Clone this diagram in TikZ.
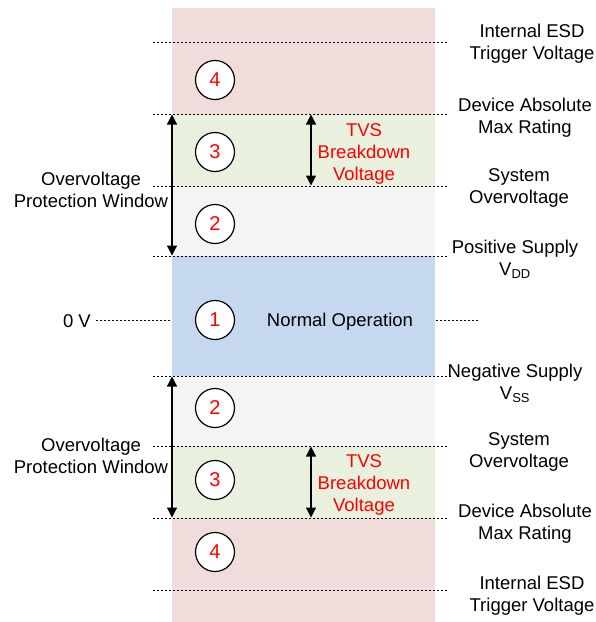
\documentclass[tikz,border=0pt]{standalone}
\usepackage{fontspec}
\setmainfont{Liberation Sans}
\usetikzlibrary{arrows.meta}
\definecolor{bandred}{RGB}{240,220,219}
\definecolor{bandgreen}{RGB}{234,240,222}
\definecolor{bandgray}{RGB}{244,244,244}
\definecolor{bandblue}{RGB}{197,216,239}
\definecolor{numred}{RGB}{255,0,0}
\tikzset{
  band/.style={draw=none},
  level/.style={line width=0.9pt, dash pattern=on 2pt off 2pt},
  num/.style={circle, draw=black, line width=1.2pt, fill=white, minimum size=39pt, inner sep=0pt, text=numred, font=\fontsize{20}{22}\selectfont},
  lbl/.style={align=center, inner sep=0pt, font=\fontsize{18.5}{22}\selectfont},
  tvs/.style={lbl, text=numred},
  span/.style={{Triangle[width=10pt,length=10pt]}-{Triangle[width=10pt,length=10pt]}, line width=1.2pt, shorten <=0.5pt, shorten >=0.5pt}
}
\begin{document}
\begin{tikzpicture}[x=1pt,y=-1pt]
\useasboundingbox (0,0) rectangle (596,622);
% bands
\fill[bandred]   (172,8)   rectangle (435,114);
\fill[bandgreen] (172,114) rectangle (435,186);
\fill[bandgray]  (172,186) rectangle (435,256);
\fill[bandblue]  (172,256) rectangle (435,376);
\fill[bandgray]  (172,376) rectangle (435,446);
\fill[bandgreen] (172,446) rectangle (435,518);
\fill[bandred]   (172,518) rectangle (435,622);
% level lines
\foreach \yy in {42,114,186,256,446,518,590}
  \draw[level] (153,\yy) -- (448,\yy);
\draw[level] (153,376) -- (452,376);
\draw[level] (96,320) -- (170,320);
\draw[level] (436,320) -- (479,320);
% circles
\node[num] (c4a) at (215,80) {4};
\node[num] (c3a) at (215,152) {3};
\node[num] (c2a) at (215,224) {2};
\node[num] (c1)  at (215,320) {1};
\node[num] (c2b) at (215,408) {2};
\node[num] (c3b) at (215,480) {3};
\node[num] (c4b) at (215,552) {4};
% arrow endpoints
\coordinate (owt1) at (172,114);
\coordinate (owb1) at (172,256);
\coordinate (owt2) at (172,376);
\coordinate (owb2) at (172,518);
\coordinate (tvt1) at (311,114);
\coordinate (tvb1) at (311,186);
\coordinate (tvt2) at (311,446);
\coordinate (tvb2) at (311,518);
\draw[span] (owt1) -- (owb1);
\draw[span] (owt2) -- (owb2);
\draw[span] (tvt1) -- (tvb1);
\draw[span] (tvt2) -- (tvb2);
% left labels
\node[lbl] (ow1) at (91,189.5) {Overvoltage\\Protection Window};
\node[lbl] (ow2) at (91,455.5) {Overvoltage\\Protection Window};
\node[lbl, anchor=east] (zero) at (91,321) {0 V};
% TVS labels
\node[tvs] (tvs1) at (364,154) {TVS\\Breakdown\\Voltage};
\node[tvs] (tvs2) at (364,485) {TVS\\Breakdown\\Voltage};
\node[lbl] (norm) at (340,322) {Normal Operation};
% right labels
\node[lbl] (esd1) at (532,44) {Internal ESD\\Trigger Voltage};
\node[lbl] (abs1) at (525,118) {Device Absolute\\Max Rating};
\node[lbl] (sys1) at (519,188) {System\\Overvoltage};
\node[lbl] (pos)  at (515,259) {Positive Supply\\V\textsubscript{DD}};
\node[lbl] (neg)  at (515,383) {Negative Supply\\V\textsubscript{SS}};
\node[lbl] (sys2) at (519,452) {System\\Overvoltage};
\node[lbl] (abs2) at (525,524) {Device Absolute\\Max Rating};
\node[lbl] (esd2) at (532,596) {Internal ESD\\Trigger Voltage};
\end{tikzpicture}
\end{document}
